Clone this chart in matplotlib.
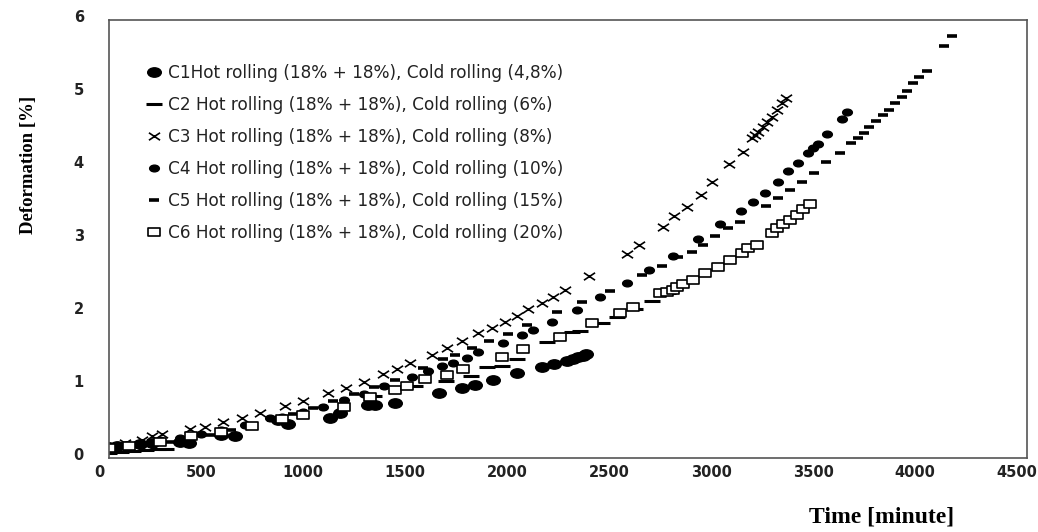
import numpy as np
import matplotlib
matplotlib.use("Agg")
import matplotlib.pyplot as plt
from matplotlib.path import Path
import matplotlib.transforms as mtrans

# ---- data (time in minutes, deformation in %) ----
c1_t = [0, 40, 90, 150, 210, 350, 390, 549, 620, 830, 877, 1083, 1132, 1270, 1305,
        1402, 1618, 1730, 1794, 1882, 2000, 2123, 2181, 2245, 2275, 2299, 2324, 2338]
c1_y = [0.15, 0.16, 0.17, 0.19, 0.21, 0.22, 0.20, 0.32, 0.30, 0.52, 0.47, 0.55, 0.62, 0.73, 0.72,
        0.75, 0.89, 0.96, 1.00, 1.07, 1.16, 1.25, 1.29, 1.33, 1.36, 1.38, 1.40, 1.42]

c2_t = [0, 60, 120, 180, 240, 280, 1300, 1500, 1650, 1775, 1853, 1926, 2000, 2147, 2270,
        2309, 2417, 2490, 2580, 2662, 2740]
c2_y = [0.07, 0.08, 0.10, 0.11, 0.12, 0.13, 0.85, 0.98, 1.06, 1.12, 1.25, 1.26, 1.35, 1.59, 1.73,
        1.74, 1.85, 1.93, 2.04, 2.15, 2.26]

c3_t = [80, 160, 210, 260, 397, 470, 559, 652, 740, 863, 951, 1074, 1162, 1250, 1343, 1412,
        1475, 1583, 1657, 1730, 1809, 1877, 1941, 2000, 2054, 2123, 2176, 2235, 2353, 2539,
        2598, 2716, 2770, 2833, 2902, 2956, 3039, 3108, 3152, 3167, 3181, 3206, 3225, 3250,
        3275, 3299, 3319]
c3_y = [0.20, 0.25, 0.30, 0.33, 0.40, 0.42, 0.49, 0.55, 0.62, 0.71, 0.78, 0.89, 0.96, 1.04, 1.15, 1.22,
        1.30, 1.41, 1.51, 1.60, 1.71, 1.78, 1.86, 1.95, 2.04, 2.12, 2.21, 2.30, 2.49, 2.79,
        2.92, 3.16, 3.32, 3.44, 3.60, 3.78, 4.03, 4.19, 4.38, 4.42, 4.47, 4.53, 4.60, 4.67,
        4.77, 4.86, 4.93]

c4_t = [50, 150, 250, 350, 450, 550, 667, 789, 850, 950, 1050, 1150, 1250, 1350, 1485, 1564,
        1632, 1686, 1755, 1809, 1931, 2025, 2078, 2172, 2294, 2407, 2539, 2647, 2765, 2887,
        2995, 3098, 3157, 3216, 3279, 3328, 3377, 3426, 3451, 3475, 3520, 3593, 3618]
c4_y = [0.17, 0.20, 0.24, 0.28, 0.33, 0.38, 0.45, 0.55, 0.56, 0.63, 0.70, 0.79, 0.88, 0.98, 1.11, 1.19,
        1.26, 1.30, 1.37, 1.45, 1.58, 1.68, 1.75, 1.86, 2.03, 2.21, 2.40, 2.58, 2.77, 3.00,
        3.21, 3.38, 3.51, 3.63, 3.78, 3.93, 4.04, 4.18, 4.25, 4.30, 4.44, 4.64, 4.74]

c5_t = [0, 100, 200, 300, 400, 500, 600, 700, 800, 900, 1000, 1100, 1200, 1300, 1400, 1539,
        1637, 1696, 1779, 1863, 1956, 2049, 2196, 2319, 2456, 2613, 2711, 2789, 2858, 2912,
        2971, 3034, 3093, 3221, 3279, 3338, 3397, 3456, 3515, 3583, 3637, 3672, 3701, 3725,
        3760, 3794, 3824, 3853, 3887, 3912, 3941, 3971, 4010, 4093, 4132]
c5_y = [0.12, 0.15, 0.18, 0.22, 0.27, 0.32, 0.38, 0.45, 0.52, 0.60, 0.68, 0.78, 0.88, 0.97, 1.07, 1.23,
        1.36, 1.41, 1.51, 1.60, 1.70, 1.82, 2.00, 2.14, 2.29, 2.51, 2.63, 2.75, 2.82, 2.92,
        3.04, 3.15, 3.23, 3.45, 3.56, 3.67, 3.78, 3.90, 4.05, 4.18, 4.32, 4.38, 4.45, 4.53,
        4.62, 4.70, 4.77, 4.86, 4.95, 5.03, 5.14, 5.22, 5.30, 5.64, 5.78]

c6_t = [0, 100, 250, 400, 550, 700, 850, 951, 1150, 1279, 1400, 1461, 1549, 1657, 1735, 1926,
        2029, 2211, 2368, 2505, 2569, 2701, 2735, 2765, 2784, 2814, 2863, 2922, 2985, 3044,
        3103, 3132, 3176, 3250, 3275, 3304, 3338, 3373, 3402, 3436]
c6_y = [0.14, 0.17, 0.22, 0.30, 0.35, 0.44, 0.53, 0.59, 0.70, 0.84, 0.93, 0.99, 1.08, 1.14, 1.22, 1.38,
        1.49, 1.66, 1.85, 1.99, 2.07, 2.26, 2.27, 2.30, 2.34, 2.38, 2.44, 2.53, 2.62, 2.71,
        2.81, 2.88, 2.92, 3.08, 3.15, 3.21, 3.26, 3.33, 3.41, 3.48]

labels = ["C1Hot rolling (18% + 18%), Cold rolling (4,8%)",
          "C2 Hot rolling (18% + 18%), Cold rolling (6%)",
          "C3 Hot rolling (18% + 18%), Cold rolling (8%)",
          "C4 Hot rolling (18% + 18%), Cold rolling (10%)",
          "C5 Hot rolling (18% + 18%), Cold rolling (15%)",
          "C6 Hot rolling (18% + 18%), Cold rolling (20%)"]

# wide marker shapes (the scanned figure is stretched sideways)
circ = Path.unit_circle()
ellipse = Path(circ.vertices * [1.45, 1.0], circ.codes)
cross = Path([(-1.5, -1), (1.5, 1), (-1.5, 1), (1.5, -1)],
             [Path.MOVETO, Path.LINETO, Path.MOVETO, Path.LINETO])
rect = Path([(-1.7, -1), (1.7, -1), (1.7, 1), (-1.7, 1), (-1.7, -1)],
            [Path.MOVETO, Path.LINETO, Path.LINETO, Path.LINETO, Path.CLOSEPOLY])

fig = plt.figure(figsize=(10.38, 5.32), dpi=100)
ax = fig.add_axes([109 / 1038, 74 / 532, 918 / 1038, 438 / 532])

k = dict(linestyle="none", color="black")
ax.plot(c1_t, c1_y, marker=ellipse, markersize=9.8, label=labels[0], **k)
ax.plot(c2_t, c2_y, marker="_", markersize=11.5, markeredgewidth=2.2, label=labels[1], **k)
ax.plot(c3_t, c3_y, marker=cross, markersize=8, markeredgewidth=1.2, label=labels[2], **k)
ax.plot(c4_t, c4_y, marker=ellipse, markersize=7, label=labels[3], **k)
ax.plot(c5_t, c5_y, marker="_", markersize=6.5, markeredgewidth=2.6, label=labels[4], **k)
ax.plot(c6_t, c6_y, marker=rect, markersize=8.6, markeredgewidth=1.2,
        markerfacecolor="white", label=labels[5], **k)

ax.set_xlim(0, 4500)
ax.set_ylim(0, 6)
ax.set_xticks(np.arange(0, 4501, 500))
ax.set_yticks(np.arange(0, 7, 1))
ax.tick_params(length=0, labelsize=10.5)
for lab in ax.get_xticklabels() + ax.get_yticklabels():
    lab.set_fontweight("bold")
    lab.set_color("#222222")
ax.tick_params(axis="x", pad=5)
ax.tick_params(axis="y", pad=18)
# shift tick labels like in the scan
dx = mtrans.ScaledTranslation(-10 / 100, 0, fig.dpi_scale_trans)
for lab in ax.get_xticklabels():
    lab.set_transform(lab.get_transform() + dx)
dy = mtrans.ScaledTranslation(0, 4 / 100, fig.dpi_scale_trans)
for lab in ax.get_yticklabels():
    lab.set_transform(lab.get_transform() + dy)

for s in ax.spines.values():
    s.set_color("#555555")
    s.set_linewidth(1.2)

fig.text(28 / 1038, 1 - 165 / 532, "Deformation [%]", rotation=90, ha="center", va="center",
         family="Liberation Serif", fontweight="bold", fontsize=13.5)
fig.text(882 / 1038, 1 - 517 / 532, "Time [minute]", ha="center", va="center",
         family="Liberation Serif", fontweight="bold", fontsize=17)

leg = ax.legend(loc="upper left", bbox_to_anchor=(146 / 1038, 1 - 64 / 532),
                bbox_transform=fig.transFigure, frameon=False, numpoints=1,
                handlelength=1.0, handletextpad=0.3, labelspacing=0.83,
                borderpad=0, borderaxespad=0, prop=dict(family="DejaVu Sans", size=12.2))
for t in leg.get_texts():
    t.set_color("#222222")

fig.savefig("out.png", dpi=100)
